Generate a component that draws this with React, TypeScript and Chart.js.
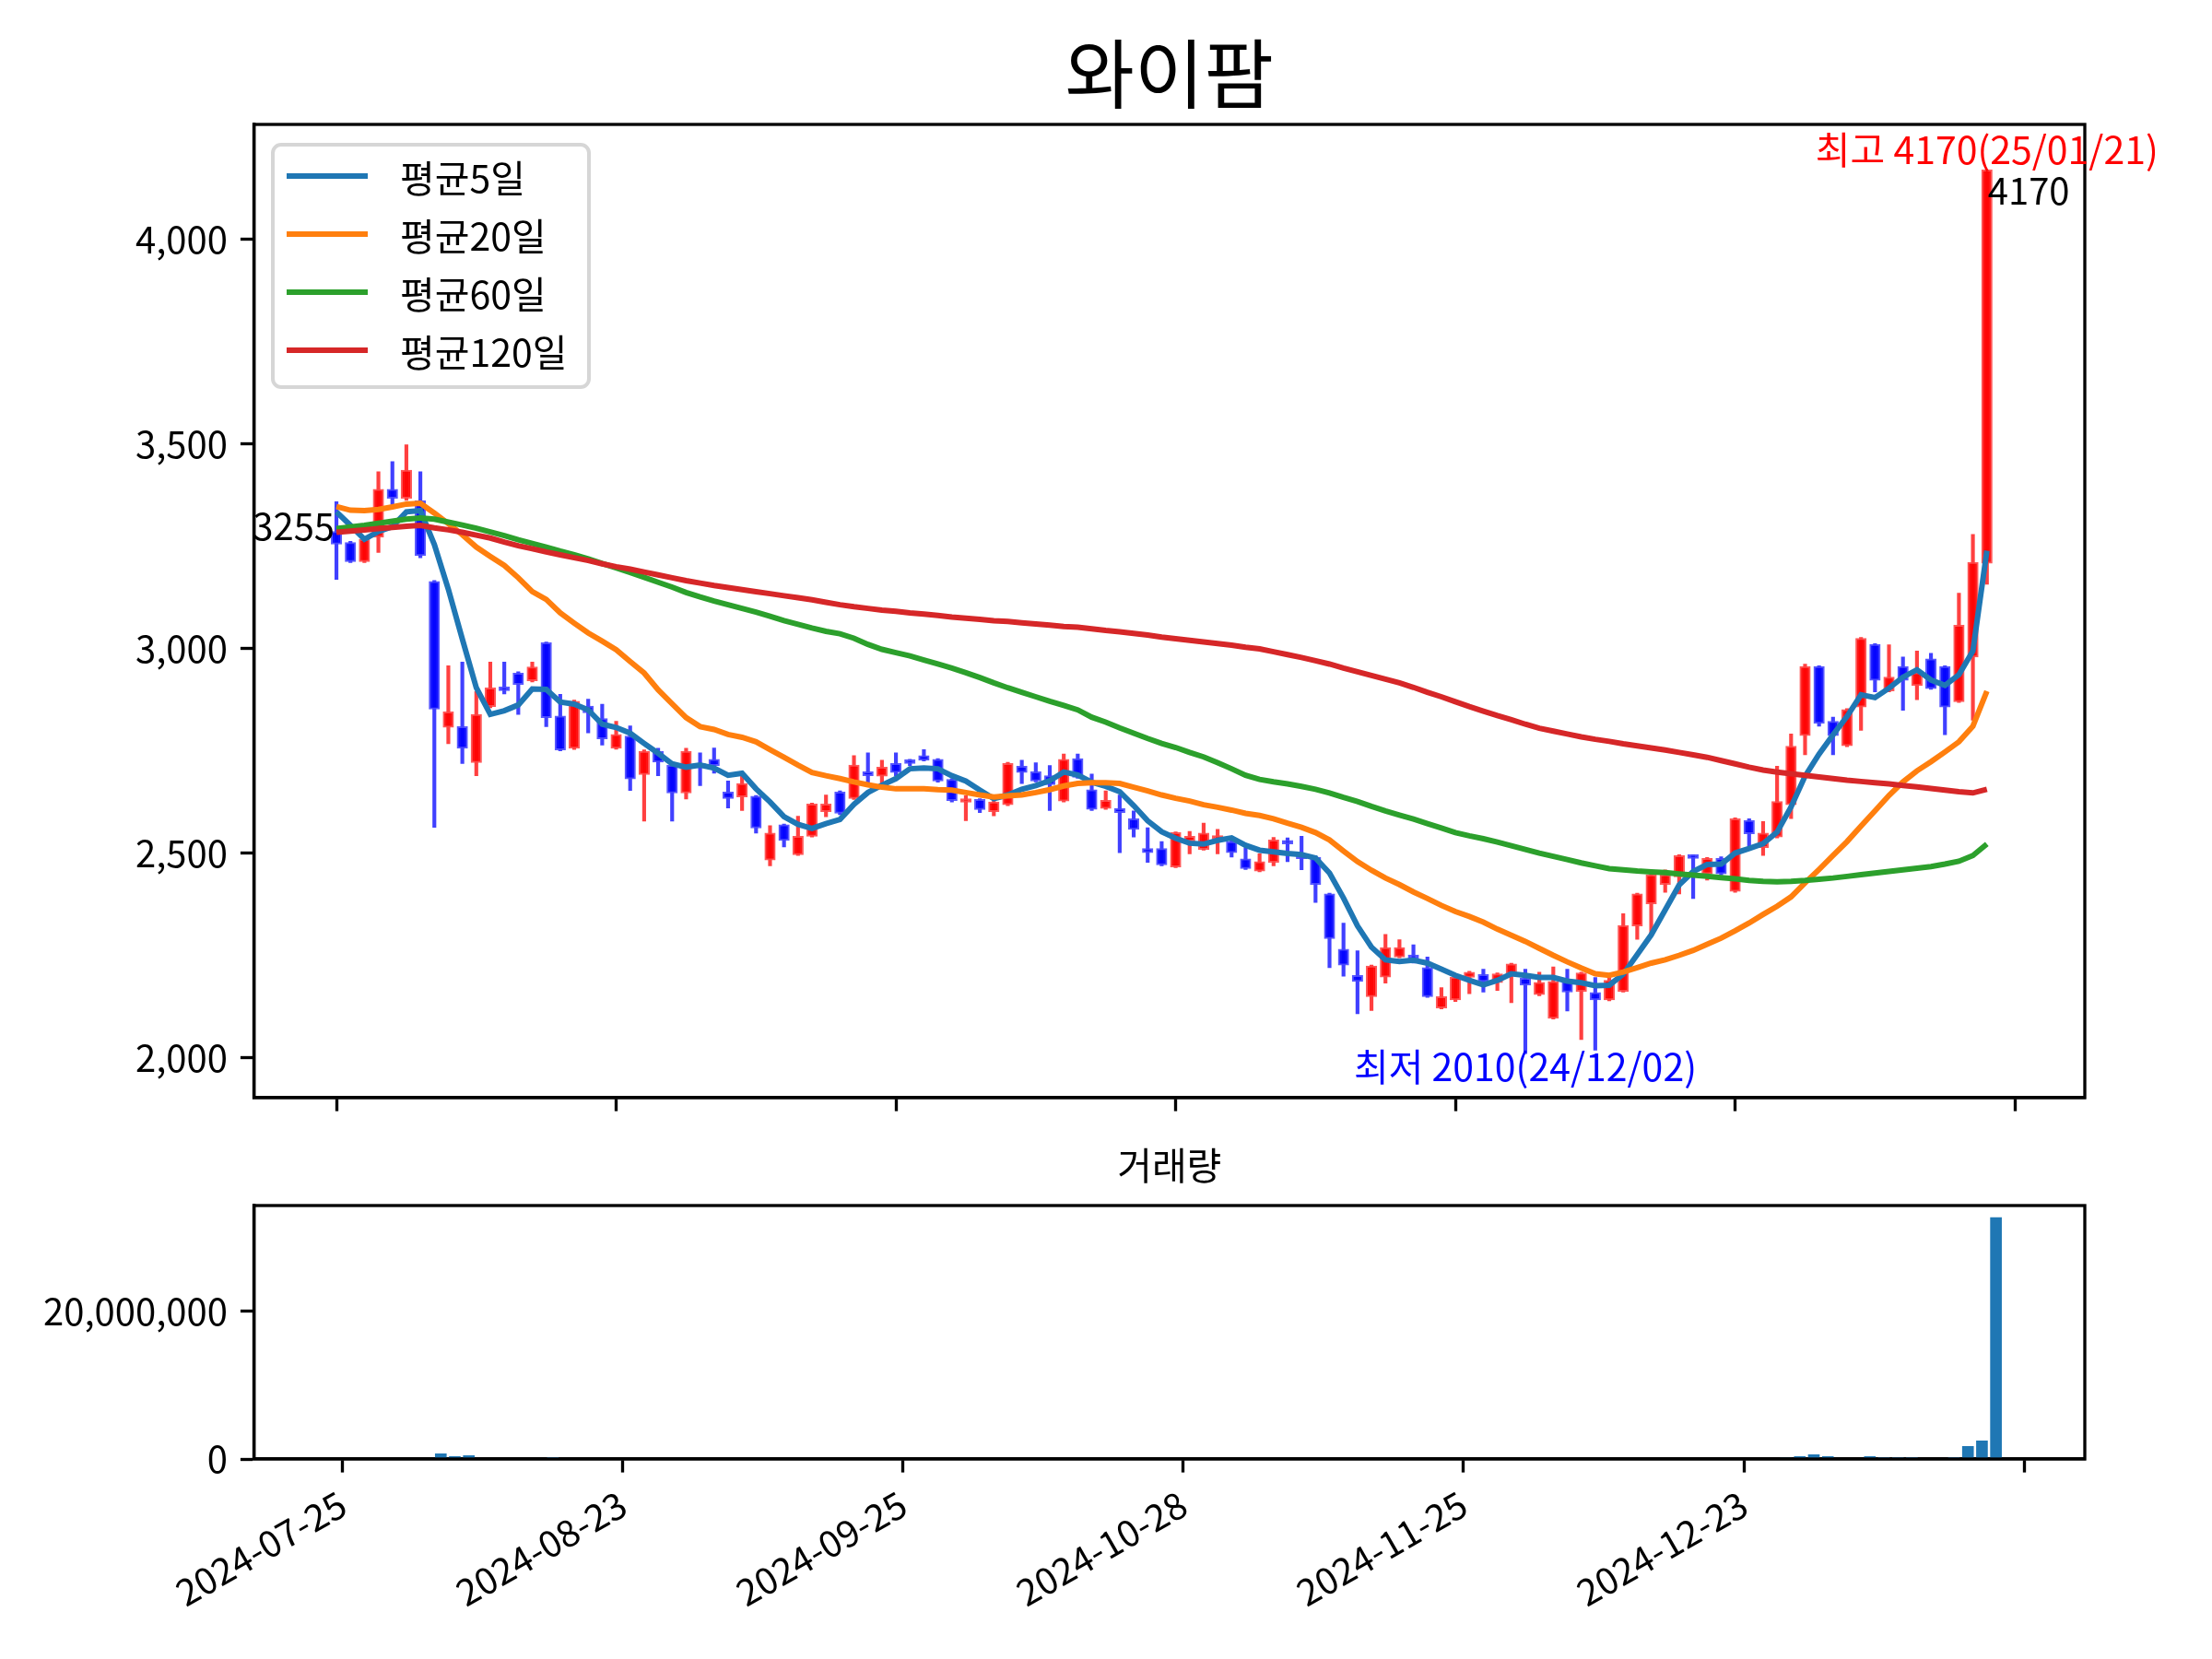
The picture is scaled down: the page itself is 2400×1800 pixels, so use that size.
import { useEffect, useRef } from "react";
import Chart from "chart.js/auto";

const FONT = "'Noto Sans CJK KR', 'Noto Sans', sans-serif";
const TITLE = "와이팜";
const VOLUME_TITLE = "거래량";

// trading days, one per candle
const dates = [
  "2024-07-25", "2024-07-26", "2024-07-29", "2024-07-30", "2024-07-31", "2024-08-01", "2024-08-02", "2024-08-05", "2024-08-06", "2024-08-07",
  "2024-08-08", "2024-08-09", "2024-08-12", "2024-08-13", "2024-08-14", "2024-08-16", "2024-08-19", "2024-08-20", "2024-08-21", "2024-08-22",
  "2024-08-23", "2024-08-26", "2024-08-27", "2024-08-28", "2024-08-29", "2024-08-30", "2024-09-02", "2024-09-03", "2024-09-04", "2024-09-05",
  "2024-09-06", "2024-09-09", "2024-09-10", "2024-09-11", "2024-09-12", "2024-09-13", "2024-09-19", "2024-09-20", "2024-09-23", "2024-09-24",
  "2024-09-25", "2024-09-26", "2024-09-27", "2024-09-30", "2024-10-02", "2024-10-04", "2024-10-07", "2024-10-08", "2024-10-10", "2024-10-11",
  "2024-10-14", "2024-10-15", "2024-10-16", "2024-10-17", "2024-10-18", "2024-10-21", "2024-10-22", "2024-10-23", "2024-10-24", "2024-10-25",
  "2024-10-28", "2024-10-29", "2024-10-30", "2024-10-31", "2024-11-01", "2024-11-04", "2024-11-05", "2024-11-06", "2024-11-07", "2024-11-08",
  "2024-11-11", "2024-11-12", "2024-11-13", "2024-11-14", "2024-11-15", "2024-11-18", "2024-11-19", "2024-11-20", "2024-11-21", "2024-11-22",
  "2024-11-25", "2024-11-26", "2024-11-27", "2024-11-28", "2024-11-29", "2024-12-02", "2024-12-03", "2024-12-04", "2024-12-05", "2024-12-06",
  "2024-12-09", "2024-12-10", "2024-12-11", "2024-12-12", "2024-12-13", "2024-12-16", "2024-12-17", "2024-12-18", "2024-12-19", "2024-12-20",
  "2024-12-23", "2024-12-24", "2024-12-26", "2024-12-27", "2024-12-30", "2025-01-02", "2025-01-03", "2025-01-06", "2025-01-07", "2025-01-08",
  "2025-01-09", "2025-01-10", "2025-01-13", "2025-01-14", "2025-01-15", "2025-01-16", "2025-01-17", "2025-01-20", "2025-01-21",
];

const opens = [
  3286, 3259, 3212, 3272, 3389, 3367, 3361, 3164, 2807, 2809,
  2721, 2858, 2904, 2940, 2921, 3014, 2835, 2756, 2859, 2829,
  2756, 2786, 2692, 2749, 2715, 2647, 2719, 2729, 2649, 2637,
  2639, 2483, 2569, 2496, 2541, 2601, 2649, 2633, 2699, 2688,
  2719, 2725, 2738, 2729, 2680, 2624, 2631, 2601, 2618, 2712,
  2699, 2689, 2627, 2731, 2655, 2609, 2609, 2584, 2511, 2511,
  2466, 2529, 2509, 2534, 2528, 2486, 2456, 2477, 2530, 2494,
  2490, 2400, 2265, 2201, 2149, 2197, 2246, 2250, 2220, 2121,
  2141, 2196, 2203, 2183, 2205, 2194, 2154, 2096, 2190, 2162,
  2159, 2141, 2162, 2322, 2376, 2423, 2442, 2494, 2449, 2487,
  2406, 2580, 2513, 2539, 2618, 2787, 2956, 2822, 2762, 2857,
  3010, 2896, 2956, 2909, 2975, 2956, 2870, 2979, 3208,
];

const highs = [
  3359, 3262, 3270, 3432, 3457, 3498, 3432, 3166, 2958, 2967,
  2895, 2967, 2967, 2943, 2967, 3016, 2888, 2874, 2876, 2864,
  2822, 2811, 2752, 2756, 2718, 2756, 2745, 2757, 2676, 2689,
  2641, 2567, 2571, 2590, 2622, 2642, 2652, 2738, 2745, 2727,
  2745, 2729, 2753, 2731, 2682, 2640, 2633, 2627, 2722, 2727,
  2721, 2714, 2742, 2742, 2693, 2652, 2642, 2603, 2562, 2528,
  2552, 2553, 2573, 2558, 2539, 2513, 2498, 2538, 2537, 2541,
  2493, 2402, 2329, 2261, 2226, 2301, 2288, 2276, 2246, 2171,
  2199, 2211, 2216, 2207, 2231, 2216, 2209, 2222, 2216, 2209,
  2196, 2199, 2352, 2402, 2449, 2459, 2496, 2496, 2489, 2491,
  2586, 2584, 2577, 2712, 2791, 2962, 2958, 2832, 2853, 3027,
  3012, 3009, 2979, 2994, 2988, 2958, 3135, 3279, 4170,
];

const lows = [
  3169, 3210, 3210, 3235, 3352, 3362, 3222, 2563, 2767, 2719,
  2689, 2855, 2889, 2839, 2918, 2809, 2750, 2753, 2794, 2764,
  2754, 2653, 2578, 2689, 2578, 2632, 2665, 2695, 2610, 2604,
  2549, 2469, 2515, 2494, 2539, 2589, 2594, 2631, 2670, 2670,
  2689, 2714, 2725, 2673, 2625, 2579, 2599, 2591, 2616, 2670,
  2674, 2604, 2625, 2683, 2604, 2607, 2501, 2539, 2477, 2469,
  2464, 2498, 2507, 2498, 2490, 2460, 2454, 2469, 2479, 2459,
  2379, 2220, 2199, 2107, 2115, 2182, 2244, 2231, 2147, 2119,
  2137, 2156, 2160, 2164, 2134, 2010, 2151, 2094, 2114, 2044,
  2018, 2139, 2160, 2289, 2304, 2404, 2400, 2389, 2434, 2446,
  2404, 2517, 2494, 2537, 2584, 2740, 2810, 2740, 2760, 2800,
  2894, 2894, 2849, 2875, 2900, 2789, 2868, 2825, 3157,
];

const closes = [
  3255, 3212, 3267, 3389, 3367, 3436, 3227, 2852, 2845, 2756,
  2839, 2904, 2897, 2912, 2955, 2831, 2752, 2871, 2843, 2779,
  2790, 2681, 2749, 2722, 2647, 2749, 2708, 2714, 2633, 2670,
  2561, 2549, 2531, 2541, 2620, 2620, 2597, 2715, 2689, 2710,
  2697, 2719, 2727, 2676, 2628, 2631, 2606, 2625, 2719, 2697,
  2676, 2667, 2729, 2685, 2607, 2629, 2599, 2558, 2501, 2471,
  2550, 2541, 2549, 2543, 2501, 2462, 2479, 2532, 2522, 2486,
  2423, 2291, 2226, 2186, 2224, 2269, 2269, 2242, 2149, 2149,
  2197, 2209, 2186, 2205, 2229, 2177, 2184, 2186, 2160, 2207,
  2141, 2189, 2323, 2400, 2447, 2447, 2494, 2487, 2487, 2449,
  2584, 2547, 2549, 2626, 2761, 2956, 2817, 2787, 2851, 3025,
  2922, 2930, 2922, 2941, 2902, 2857, 3057, 3211, 4170,
];

const ma5 = [
  3334, 3301, 3267, 3286, 3298, 3334, 3337, 3254, 3145, 3023,
  2904, 2839, 2848, 2862, 2901, 2900, 2869, 2864, 2850, 2815,
  2807, 2793, 2768, 2744, 2718, 2710, 2715, 2708, 2690, 2695,
  2657, 2625, 2589, 2570, 2560, 2572, 2582, 2619, 2648, 2666,
  2682, 2706, 2708, 2706, 2689, 2676, 2654, 2633, 2642, 2656,
  2665, 2677, 2698, 2691, 2673, 2663, 2650, 2616, 2579, 2552,
  2536, 2524, 2522, 2531, 2537, 2519, 2507, 2503, 2499, 2496,
  2488, 2451, 2390, 2322, 2270, 2239, 2235, 2238, 2231, 2216,
  2201, 2189, 2178, 2189, 2205, 2201, 2196, 2196, 2187, 2183,
  2176, 2177, 2204, 2252, 2300, 2361, 2422, 2455, 2472, 2473,
  2500, 2511, 2523, 2551, 2613, 2688, 2742, 2789, 2834, 2887,
  2880, 2903, 2930, 2948, 2923, 2910, 2936, 2994, 3239,
];

const ma20 = [
  3347, 3338, 3337, 3340, 3346, 3353, 3355, 3331, 3305, 3278,
  3248, 3225, 3203, 3173, 3139, 3120, 3087, 3062, 3038, 3018,
  2997, 2968, 2940, 2899, 2865, 2831, 2809, 2802, 2790, 2783,
  2772, 2753, 2734, 2715, 2697, 2689, 2682, 2674, 2667, 2661,
  2657, 2657, 2657, 2655, 2654, 2648, 2642, 2637, 2640, 2642,
  2648, 2655, 2664, 2670, 2672, 2672, 2670, 2661, 2652, 2642,
  2634, 2627, 2618, 2612, 2605, 2597, 2592, 2584, 2573, 2563,
  2550, 2532, 2505, 2479, 2458, 2439, 2423, 2405, 2389, 2372,
  2357, 2345, 2331, 2314, 2299, 2284, 2267, 2250, 2234, 2219,
  2205, 2201, 2209, 2220, 2231, 2239, 2250, 2262, 2277, 2292,
  2310, 2329, 2350, 2370, 2393, 2427, 2460, 2494, 2528, 2566,
  2603, 2641, 2674, 2701, 2723, 2747, 2772, 2810, 2896,
];

const ma60 = [
  3293, 3297, 3301, 3306, 3311, 3316, 3319, 3316, 3309, 3302,
  3294, 3285, 3276, 3266, 3257, 3248, 3238, 3229, 3219, 3208,
  3197, 3186, 3174, 3162, 3150, 3137, 3126, 3116, 3107, 3098,
  3089, 3079, 3068, 3059, 3050, 3042, 3036, 3025, 3010, 2998,
  2990, 2982, 2972, 2962, 2952, 2941, 2929, 2916, 2904, 2893,
  2882, 2871, 2861, 2850, 2832, 2820, 2806, 2793, 2780, 2768,
  2758, 2746, 2735, 2721, 2706, 2690, 2680, 2674, 2669, 2663,
  2656, 2647, 2636, 2626, 2614, 2603, 2593, 2583, 2572, 2561,
  2550, 2542, 2535, 2527, 2518, 2509, 2500, 2492, 2484, 2476,
  2469, 2462, 2459, 2456, 2454, 2452, 2449, 2446, 2443, 2440,
  2437, 2433, 2431, 2430, 2431, 2433, 2436, 2439, 2443, 2447,
  2451, 2455, 2459, 2463, 2467, 2473, 2480, 2494, 2522,
];

const ma120 = [
  3284, 3287, 3290, 3293, 3296, 3299, 3301, 3295, 3290, 3284,
  3277, 3270, 3260, 3251, 3244, 3236, 3229, 3222, 3215, 3207,
  3200, 3194, 3187, 3180, 3173, 3166, 3160, 3154, 3149, 3144,
  3139, 3134, 3129, 3124, 3119, 3113, 3107, 3102, 3098, 3094,
  3091, 3087, 3084, 3081, 3077, 3074, 3071, 3068, 3066, 3063,
  3060, 3057, 3054, 3052, 3048, 3044, 3041, 3037, 3033, 3028,
  3024, 3020, 3016, 3012, 3008, 3003, 2999, 2992, 2985, 2978,
  2970, 2962, 2952, 2943, 2934, 2925, 2916, 2905, 2893, 2882,
  2870, 2858, 2847, 2836, 2826, 2815, 2805, 2798, 2791, 2784,
  2778, 2773, 2767, 2762, 2757, 2752, 2746, 2740, 2734, 2726,
  2718, 2710, 2703, 2698, 2694, 2690, 2686, 2682, 2678, 2675,
  2672, 2669, 2665, 2662, 2658, 2654, 2650, 2647, 2656,
];

const volumes = [
  35000, 28000, 30000, 45000, 40000, 85000, 90000, 710000, 330000, 460000,
  85000, 40000, 30000, 25000, 35000, 210000, 45000, 30000, 25000, 20000,
  22000, 30000, 25000, 18000, 20000, 22000, 18000, 15000, 20000, 18000,
  25000, 22000, 18000, 20000, 24000, 15000, 14000, 22000, 16000, 15000,
  14000, 12000, 13000, 15000, 18000, 14000, 12000, 13000, 20000, 15000,
  14000, 15000, 22000, 16000, 18000, 14000, 20000, 18000, 22000, 20000,
  21000, 15000, 16000, 14000, 15000, 18000, 14000, 16000, 13000, 15000,
  30000, 85000, 45000, 40000, 30000, 28000, 20000, 16000, 25000, 18000,
  20000, 15000, 14000, 13000, 16000, 30000, 18000, 22000, 20000, 80000,
  40000, 30000, 85000, 60000, 50000, 35000, 40000, 30000, 25000, 22000,
  60000, 45000, 40000, 120000, 330000, 580000, 330000, 90000, 70000, 330000,
  210000, 210000, 210000, 80000, 70000, 210000, 1700000, 2450000, 32600000,
];

const priceTicks = [2000, 2500, 3000, 3500, 4000];
const volumeTicks = [0, 20000000];
const dateTicks = [0, 20, 40, 60, 80, 100, 120];

const maSeries = [
  { label: "평균5일", values: ma5, color: "#1f77b4" },
  { label: "평균20일", values: ma20, color: "#ff7f0e" },
  { label: "평균60일", values: ma60, color: "#2ca02c" },
  { label: "평균120일", values: ma120, color: "#d62728" },
];

const LINE = 3.33; // 0.8pt at 300 dpi
const TICK = 14.6;

const fmt = (v: number) => Number(v).toLocaleString("en-US");
const shortDate = (d: string) => d.slice(2).replace(/-/g, "/");

function axisBase() {
  return {
    grid: {
      display: true,
      offset: false,
      drawOnChartArea: false,
      drawTicks: true,
      tickLength: TICK,
      tickWidth: LINE,
      tickColor: "#000",
    },
    border: { display: true, color: "#000", width: LINE },
  };
}

const frameAndTitle = (title: string, size: number, titleY: number) => ({
  id: "frame-" + title,
  afterDraw(chart: any) {
    const { ctx, chartArea: a } = chart;
    ctx.save();
    ctx.strokeStyle = "#000";
    ctx.lineWidth = LINE;
    ctx.strokeRect(a.left, a.top, a.right - a.left, a.bottom - a.top);
    ctx.fillStyle = "#000";
    ctx.font = `${size}px ${FONT}`;
    ctx.textAlign = "center";
    ctx.textBaseline = "middle";
    ctx.fillText(title, (a.left + a.right) / 2, titleY);
    ctx.restore();
  },
});

const priceDecor = {
  id: "priceDecor",
  afterDraw(chart: any) {
    const { ctx } = chart;
    const x = chart.scales.x;
    const y = chart.scales.y;
    ctx.save();

    // legend, upper left
    ctx.fillStyle = "rgba(255,255,255,0.8)";
    ctx.strokeStyle = "#d6d6d6";
    ctx.lineWidth = 4;
    ctx.beginPath();
    ctx.roundRect(296, 157, 343, 263, 9);
    ctx.fill();
    ctx.stroke();
    ctx.font = `41px ${FONT}`;
    ctx.textAlign = "left";
    ctx.textBaseline = "middle";
    maSeries.forEach((s, i) => {
      const ry = 191 + i * 63;
      ctx.strokeStyle = s.color;
      ctx.lineWidth = 6;
      ctx.beginPath();
      ctx.moveTo(311, ry);
      ctx.lineTo(399, ry);
      ctx.stroke();
      ctx.fillStyle = "#000";
      ctx.fillText(s.label, 434, ry + 2);
    });

    // first / last close
    const last = closes.length - 1;
    ctx.font = `40px ${FONT}`;
    ctx.fillStyle = "#000";
    ctx.textAlign = "right";
    ctx.textBaseline = "alphabetic";
    ctx.fillText(String(closes[0]), x.getPixelForValue(0) - 2, y.getPixelForValue(closes[0]) - 4);
    ctx.textAlign = "left";
    ctx.textBaseline = "top";
    ctx.fillText(String(closes[last]), x.getPixelForValue(last) + 1, y.getPixelForValue(closes[last]) + 3);

    // highest / lowest
    const hi = highs.indexOf(Math.max(...highs));
    const lo = lows.indexOf(Math.min(...lows));
    ctx.font = `41px ${FONT}`;
    ctx.textAlign = "center";
    ctx.textBaseline = "alphabetic";
    ctx.fillStyle = "#ff0000";
    ctx.fillText(`최고 ${highs[hi]}(${shortDate(dates[hi])})`, x.getPixelForValue(hi), y.getPixelForValue(highs[hi]) - 6);
    ctx.fillStyle = "#0000ff";
    ctx.fillText(`최저 ${lows[lo]}(${shortDate(dates[lo])})`, x.getPixelForValue(lo), y.getPixelForValue(lows[lo]) + 30);

    ctx.restore();
  },
};

export default function App() {
  const priceRef = useRef<HTMLCanvasElement>(null);
  const volumeRef = useRef<HTMLCanvasElement>(null);

  useEffect(() => {
    document.body.style.margin = "0";
    if (!priceRef.current || !volumeRef.current) return;
    Chart.defaults.font.family = FONT;
    Chart.defaults.color = "#000";

    const up = closes.map((c, i) => c >= opens[i]);

    const priceChart = new Chart(priceRef.current, {
      type: "bar",
      data: {
        datasets: [
          ...maSeries.map((s, i) => ({
            type: "line" as const,
            label: s.label,
            data: s.values.map((v, k) => ({ x: k, y: v })),
            borderColor: s.color,
            borderWidth: 6,
            pointRadius: 0,
            tension: 0,
            fill: false,
            order: 3 - i,
          })),
          {
            type: "bar" as const,
            label: "body",
            data: opens.map((o, k) => ({ x: k, y: [o, closes[k]] })),
            backgroundColor: up.map((u) => (u ? "rgba(255,0,0,0.92)" : "rgba(0,0,255,0.92)")),
            borderColor: up.map((u) => (u ? "rgba(255,70,70,0.9)" : "rgba(70,70,255,0.9)")),
            borderWidth: 2,
            borderSkipped: false,
            barThickness: 11.5,
            minBarLength: 4,
            grouped: false,
            order: 4,
          },
          {
            type: "bar" as const,
            label: "wick",
            data: lows.map((l, k) => ({ x: k, y: [l, highs[k]] })),
            backgroundColor: up.map((u) => (u ? "rgba(255,0,0,0.75)" : "rgba(0,0,255,0.75)")),
            borderWidth: 0,
            barThickness: 3.5,
            grouped: false,
            order: 5,
          },
        ],
      },
      options: {
        responsive: false,
        devicePixelRatio: 1,
        animation: false,
        layout: { padding: { left: 0, right: 138, top: 135, bottom: 0 } },
        plugins: { legend: { display: false }, tooltip: { enabled: false } },
        scales: {
          x: {
            type: "linear",
            min: -5.9,
            max: 125,
            offset: false,
            ...axisBase(),
            afterBuildTicks: (s: any) => {
              s.ticks = dateTicks.map((v) => ({ value: v }));
            },
            afterFit: (s: any) => {
              s.height = 49;
            },
            ticks: { autoSkip: false, callback: () => "" },
          },
          y: {
            type: "linear",
            min: 1902,
            max: 4281,
            ...axisBase(),
            afterBuildTicks: (s: any) => {
              s.ticks = priceTicks.map((v) => ({ value: v }));
            },
            afterFit: (s: any) => {
              s.width = 275.5;
            },
            ticks: { autoSkip: false, padding: 14, font: { size: 40, family: FONT }, color: "#000", callback: (v: any) => fmt(v) },
          },
        },
      },
      plugins: [frameAndTitle(TITLE, 82, 80), priceDecor],
    } as any);

    const volumeChart = new Chart(volumeRef.current, {
      type: "bar",
      data: {
        datasets: [
          {
            label: VOLUME_TITLE,
            data: volumes.map((v, k) => ({ x: k, y: v })),
            backgroundColor: "#1f77b4",
            borderWidth: 0,
            barThickness: 12,
            grouped: false,
          },
        ],
      },
      options: {
        responsive: false,
        devicePixelRatio: 1,
        animation: false,
        layout: { padding: { left: 0, right: 138, top: 68, bottom: 0 } },
        plugins: { legend: { display: false }, tooltip: { enabled: false } },
        scales: {
          x: {
            type: "linear",
            min: -6.34,
            max: 124.34,
            offset: false,
            ...axisBase(),
            afterBuildTicks: (s: any) => {
              s.ticks = dateTicks.map((v) => ({ value: v }));
            },
            afterFit: (s: any) => {
              s.height = 217;
            },
            ticks: {
              autoSkip: false,
              minRotation: 30,
              maxRotation: 30,
              padding: 10,
              font: { size: 40, family: FONT },
              color: "#000",
              callback: (v: any) => dates[v] ?? "",
            },
          },
          y: {
            type: "linear",
            min: 0,
            max: 34230000,
            ...axisBase(),
            afterBuildTicks: (s: any) => {
              s.ticks = volumeTicks.map((v) => ({ value: v }));
            },
            afterFit: (s: any) => {
              s.width = 275.5;
            },
            ticks: { autoSkip: false, padding: 14, font: { size: 40, family: FONT }, color: "#000", callback: (v: any) => fmt(v) },
          },
        },
      },
      plugins: [frameAndTitle(VOLUME_TITLE, 41, 24)],
    } as any);

    return () => {
      priceChart.destroy();
      volumeChart.destroy();
    };
  }, []);

  return (
    <div style={{ position: "relative", width: 2400, height: 1800, background: "#fff" }}>
      <canvas
        ref={priceRef}
        width={2400}
        height={1240}
        style={{ position: "absolute", left: 0, top: 0, width: 2400, height: 1240 }}
      />
      <canvas
        ref={volumeRef}
        width={2400}
        height={560}
        style={{ position: "absolute", left: 0, top: 1240, width: 2400, height: 560 }}
      />
    </div>
  );
}
